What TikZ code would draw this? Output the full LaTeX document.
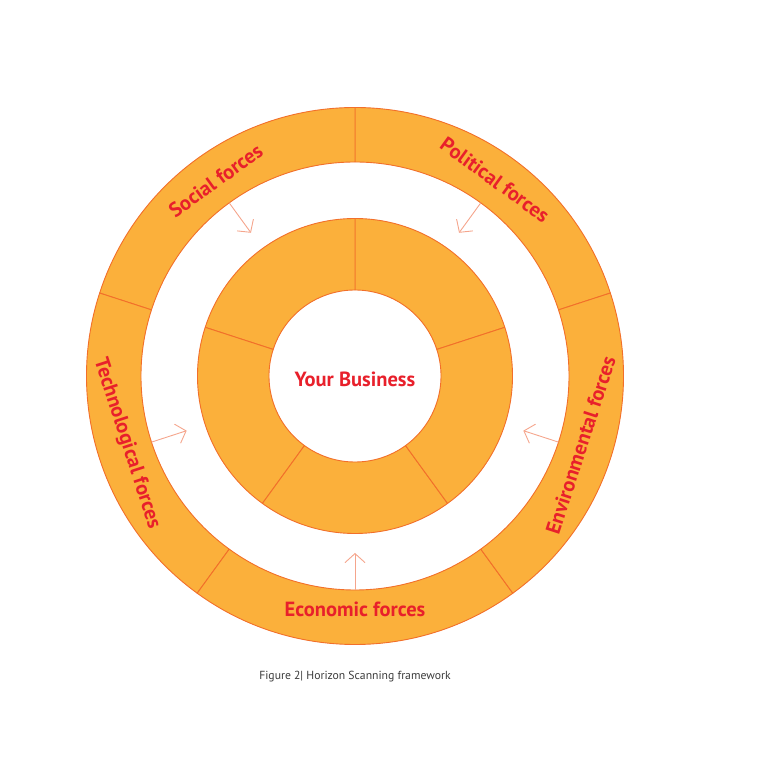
\documentclass[tikz,border=0pt]{standalone}
\usepackage{fontspec}
\setmainfont{PT Sans}
\usetikzlibrary{arrows.meta}
\definecolor{ringfill}{HTML}{FBB03B}
\definecolor{ringline}{HTML}{F26F2A}
\definecolor{labelred}{HTML}{E8202B}
\definecolor{arrowcol}{HTML}{F5A58C}
\definecolor{captiongray}{HTML}{3A3A3A}
\tikzset{
  sector/.style={fill=ringfill, draw=ringline, line width=0.9pt, line join=round},
  forcelabel/.style={text=labelred, font=\fontsize{20.5}{20.5}\selectfont\bfseries, inner sep=0pt},
  inarrow/.style={draw=arrowcol, line width=0.9pt, -{Straight Barb[length=9pt,width=20pt,line width=0.9pt]}},
  caption/.style={text=captiongray, font=\fontsize{11.7}{13}\selectfont, inner sep=0pt}
}
\newcommand{\annsector}[4]{% start angle, end angle, inner r, outer r
  \path[sector] (#1:#4) arc[start angle=#1, end angle=#2, radius=#4]
    -- (#2:#3) arc[start angle=#2, end angle=#1, radius=#3] -- cycle;}
\begin{document}
\begin{tikzpicture}[x=1pt,y=1pt]
\useasboundingbox (-355,-391) rectangle (413,376);
% outer ring
\foreach \a in {18,90,162,234,306}{
  \pgfmathsetmacro{\b}{\a+72}
  \annsector{\a}{\b}{214}{268.5}
}
% inner ring
\foreach \a in {18,90,162,234,306}{
  \pgfmathsetmacro{\b}{\a+72}
  \annsector{\a}{\b}{86}{157.5}
}
% centre
\node[forcelabel] (business) at (0,-3) {Your Business};
% labels
\node[forcelabel, rotate=36] (social) at (125.5:240) {Social forces};
\node[forcelabel, rotate=-36] (political) at (54.5:241) {Political forces};
\node[forcelabel, rotate=72] (environmental) at (-17:236) {Environmental forces};
\node[forcelabel] (economic) at (270:233) {Economic forces};
\node[forcelabel, rotate=-72] (technological) at (196.5:238) {Technological forces};
% arrows
\foreach \n/\ang in {s/126,p/54,e/342,c/270,t/198}{
  \coordinate (\n0) at (\ang:214);
  \coordinate (\n1) at (\ang:177);
  \draw[inarrow] (\n0) -- (\n1);
}
% caption
\node[caption] (cap) at (0,-301) {Figure 2| Horizon Scanning framework};
\end{tikzpicture}
\end{document}
